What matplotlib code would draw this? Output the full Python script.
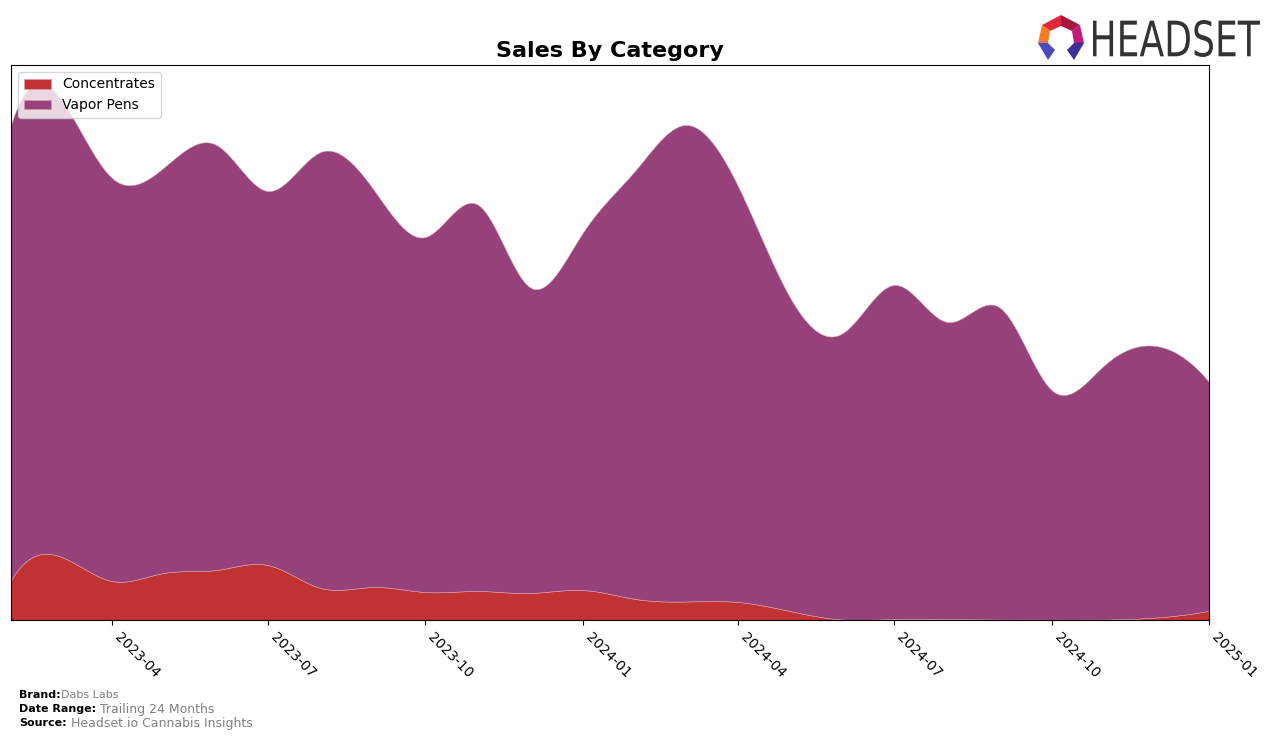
import numpy as np
import pandas as pd
import matplotlib
matplotlib.use("Agg")
import matplotlib.pyplot as plt
from matplotlib.patches import PathPatch, Polygon
from matplotlib.textpath import TextPath
from matplotlib.transforms import Affine2D
from matplotlib.font_manager import FontProperties

# ---------------- data ----------------
months = ["2023-02", "2023-03", "2023-04", "2023-05", "2023-06", "2023-07",
          "2023-08", "2023-09", "2023-10", "2023-11", "2023-12", "2024-01",
          "2024-02", "2024-03", "2024-04", "2024-05", "2024-06", "2024-07",
          "2024-08", "2024-09", "2024-10", "2024-11", "2024-12", "2025-01"]
concentrates = [40, 64, 39, 47, 50, 55, 32, 33, 28, 29, 27, 30,
                21, 18.5, 18, 9, 0.5, 1, 1, 0.5, 0.3, 0.5, 2.5, 9.3]
total = [495, 523, 442, 452, 475, 429, 468, 430, 383, 415, 333, 387,
         450, 495, 433, 323, 287, 335, 298, 312, 230, 255, 274, 238]
vapor_pens = [t - c for t, c in zip(total, concentrates)]
categories = ["Concentrates", "Vapor Pens"]
colors = ["#C03332", "#96417A"]
tick_labels = ["2023-04", "2023-07", "2023-10", "2024-01", "2024-04",
               "2024-07", "2024-10", "2025-01"]


def cubic_spline(x, y, xs):
    """not-a-knot cubic spline interpolation (for smooth drawing)"""
    x = np.asarray(x, float); y = np.asarray(y, float)
    n = len(x); m = n - 1
    A = np.zeros((4 * m, 4 * m)); b = np.zeros(4 * m)
    r = 0
    for i in range(m):
        h = x[i + 1] - x[i]
        A[r, 4 * i] = 1; b[r] = y[i]; r += 1
        A[r, 4 * i:4 * i + 4] = [1, h, h * h, h ** 3]; b[r] = y[i + 1]; r += 1
    for i in range(m - 1):
        h = x[i + 1] - x[i]
        A[r, 4 * i:4 * i + 4] = [0, 1, 2 * h, 3 * h * h]; A[r, 4 * (i + 1) + 1] = -1; r += 1
        A[r, 4 * i:4 * i + 4] = [0, 0, 2, 6 * h]; A[r, 4 * (i + 1) + 2] = -2; r += 1
    A[r, 3] = 1; A[r, 7] = -1; r += 1
    A[r, 4 * (m - 2) + 3] = 1; A[r, 4 * (m - 1) + 3] = -1; r += 1
    c = np.linalg.solve(A, b).reshape(m, 4)
    idx = np.clip(np.searchsorted(x, xs, side="right") - 1, 0, m - 1)
    t = xs - x[idx]
    return c[idx, 0] + c[idx, 1] * t + c[idx, 2] * t ** 2 + c[idx, 3] * t ** 3


dates = pd.to_datetime([m + "-01" for m in months])
x_num = matplotlib.dates.date2num(dates)
xs = np.linspace(x_num[0], x_num[-1], 1500)
xm = (x_num - x_num[0]) / 30.4
xsm = (xs - x_num[0]) / 30.4
conc_s = np.clip(cubic_spline(xm, concentrates, xsm), 0, None)
vap_s = np.clip(cubic_spline(xm, vapor_pens, xsm), 0, None)

# ---------------- figure ----------------
fig = plt.figure(figsize=(12.76, 7.41), dpi=100)
ax = fig.add_axes([11 / 1276, 1 - 620 / 741, (1209 - 11) / 1276, (620 - 65) / 741])

ax.stackplot(matplotlib.dates.num2date(xs), conc_s, vap_s, colors=colors,
             labels=categories, linewidth=0.4, edgecolor="#d9a0b0")
ax.set_xlim(dates[0], dates[-1])
ax.set_ylim(0, 555)
ax.set_yticks([])
tick_dates = pd.to_datetime([t + "-01" for t in tick_labels])
ax.set_xticks(tick_dates)
ax.set_xticklabels(tick_labels, rotation=-45, ha="left", fontsize=10)
ax.set_title("Sales By Category", fontsize=16, fontweight="bold", pad=6)
ax.legend(loc="upper left", fontsize=10, framealpha=0.8)

# ---------------- footer ----------------
rows = [("Brand:", "Dabs Labs", 695, 8), ("Date Range:", " Trailing 24 Months", 709, 9),
        ("Source:", " Headset.io Cannabis Insights", 723, 9)]
for lab, val, ypx, fs in rows:
    t = fig.text(19 / 1276, 1 - ypx / 741, lab, fontsize=8, fontweight="bold",
                 va="center", ha="left")
    ax.annotate(val, xy=(1, 0.5), xycoords=t, va="center", ha="left",
                fontsize=fs, color="#808080", annotation_clip=False)

# ---------------- logo ----------------
inch = fig.dpi_scale_trans
tp = TextPath((0, 0), "HEADSET", size=50, prop=FontProperties(family="DejaVu Sans"))
ext = tp.get_extents()
x0, x1, ytop, ybot = 1093, 1260, 20, 57
sx = (x1 - x0) / ext.width; sy = (ybot - ytop) / ext.height
tr = (Affine2D().translate(-ext.x0, -ext.y0).scale(sx, sy)
      .translate(x0, 741 - ybot).scale(1 / 100.0))
fig.patches.append(PathPatch(tp, transform=tr + inch, facecolor="#333333",
                             edgecolor="none", figure=fig))


def P(pts, col):
    pts = [(px / 100.0, (741 - py) / 100.0) for px, py in pts]
    fig.patches.append(Polygon(pts, closed=True, transform=inch, facecolor=col,
                               edgecolor="none", figure=fig))


P([(1042, 25), (1061, 15), (1061, 26), (1050, 31)], "#E0283C")
P([(1061, 15), (1080, 25), (1072, 31), (1061, 26)], "#A6183F")
P([(1080, 25), (1084, 43), (1074, 43), (1072, 31)], "#C3187C")
P([(1042, 25), (1050, 31), (1048, 43), (1038, 43)], "#F47C25")
P([(1038, 43), (1048, 43), (1055, 50), (1048, 60)], "#4B4BC0")
P([(1084, 43), (1074, 43), (1067, 50), (1074, 60)], "#3A2E9A")

fig.savefig("out.png", dpi=100)
